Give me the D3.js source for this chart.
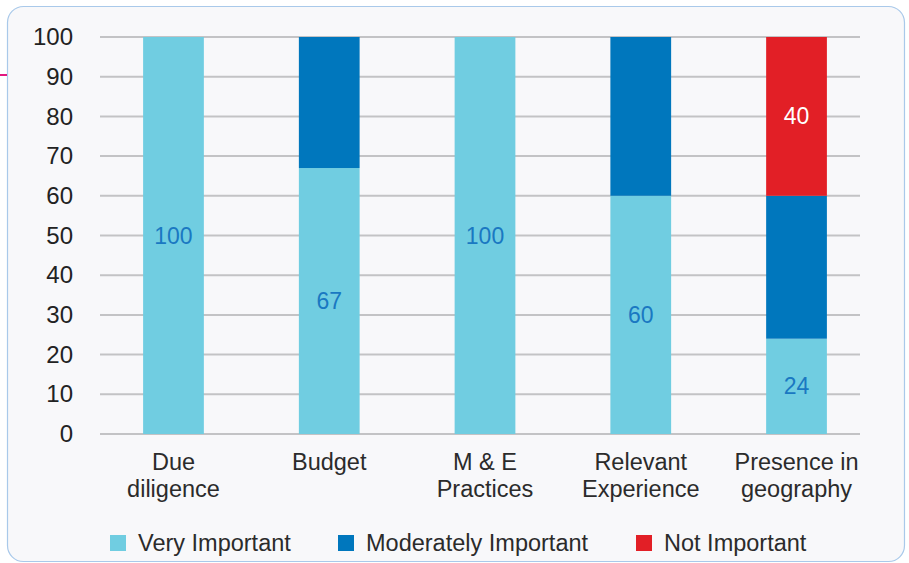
<!DOCTYPE html>
<html>
<head>
<meta charset="utf-8">
<script src="https://cdn.jsdelivr.net/npm/d3@7"></script>
<style>
  html, body { margin: 0; padding: 0; background: #ffffff; }
  svg { display: block; font-family: "Liberation Sans", Arial, sans-serif; }
</style>
</head>
<body>
<svg id="chart" width="909" height="563"></svg>
<script>
// Survey: importance of each criterion (percent of respondents)
const categories = [["Due", "diligence"], ["Budget"], ["M & E", "Practices"], ["Relevant", "Experience"], ["Presence in", "geography"]];
const seriesNames = ["Very Important", "Moderately Important", "Not Important"];
const veryImportant = [100, 67, 100, 60, 24];
const moderatelyImportant = [0, 33, 0, 40, 36];
const notImportant = [0, 0, 0, 0, 40];
// Segment values printed on the bars (null = no label)
const veryLabels = [100, 67, 100, 60, 24];
const moderateLabels = [null, null, null, null, null];
const notLabels = [null, null, null, null, 40];
const yTicks = [0, 10, 20, 30, 40, 50, 60, 70, 80, 90, 100];

const colors = ["#70cde1", "#0077bd", "#e21f26"];
const labelColors = ["#1a78c2", "#ffffff", "#ffffff"];
const FONT = "Liberation Sans, Arial, sans-serif";

const svg = d3.select("#chart");

// panel
svg.append("rect")
  .attr("x", 7.5).attr("y", 6.5).attr("width", 897).attr("height", 555)
  .attr("rx", 16).attr("ry", 16)
  .attr("fill", "#f8f8fa").attr("stroke", "#a9c9ea").attr("stroke-width", 1.2);
svg.append("line")
  .attr("x1", 0).attr("x2", 7).attr("y1", 75).attr("y2", 75)
  .attr("stroke", "#e3177f").attr("stroke-width", 2);

const keys = categories.map((c, i) => i);
const x = d3.scaleBand().domain(keys).range([95.6, 874.4]).paddingInner(0.61).paddingOuter(0.305);
const y = d3.scaleLinear().domain([0, 100]).range([434, 37]);
const gridX0 = 100, gridX1 = 860;

// gridlines
svg.append("g").selectAll("line").data(yTicks).join("line")
  .attr("x1", gridX0).attr("x2", gridX1)
  .attr("y1", d => y(d)).attr("y2", d => y(d))
  .attr("stroke", "#c3c3c5").attr("stroke-width", 2);

// y axis labels
const yAxis = d3.axisLeft(y).tickValues(yTicks).tickSize(0).tickPadding(0);
const ya = svg.append("g").attr("transform", "translate(73,0)").call(yAxis);
ya.select(".domain").remove();
ya.selectAll("text")
  .attr("font-size", 24).attr("fill", "#222").attr("font-family", FONT);

// stacked bars
const rows = keys.map(i => ({ i, v0: veryImportant[i], v1: moderatelyImportant[i], v2: notImportant[i] }));
const stack = d3.stack().keys(["v0", "v1", "v2"]);
const layers = stack(rows);
const labelSets = [veryLabels, moderateLabels, notLabels];

layers.forEach((layer, li) => {
  svg.append("g").selectAll("rect").data(layer).join("rect")
    .attr("x", d => x(d.data.i))
    .attr("width", x.bandwidth())
    .attr("y", d => y(d[1]))
    .attr("height", d => y(d[0]) - y(d[1]))
    .attr("fill", colors[li]);
});

layers.forEach((layer, li) => {
  svg.append("g").selectAll("text").data(layer.filter(d => labelSets[li][d.data.i] != null)).join("text")
    .attr("x", d => x(d.data.i) + x.bandwidth() / 2)
    .attr("y", d => (y(d[0]) + y(d[1])) / 2)
    .attr("dy", "0.35em")
    .attr("text-anchor", "middle")
    .attr("font-size", 23)
    .attr("fill", labelColors[li])
    .text(d => labelSets[li][d.data.i]);
});

// category labels
const xl = svg.append("g");
categories.forEach((lines, i) => {
  const t = xl.append("text")
    .attr("x", x(i) + x.bandwidth() / 2)
    .attr("y", 470)
    .attr("text-anchor", "middle")
    .attr("font-size", 23.5)
    .attr("fill", "#2b2b2b");
  lines.forEach((ln, k) => {
    t.append("tspan").attr("x", x(i) + x.bandwidth() / 2).attr("dy", k === 0 ? 0 : 27).text(ln);
  });
});

// legend
const legendX = [110, 338, 636];
const lg = svg.append("g");
seriesNames.forEach((name, i) => {
  lg.append("rect").attr("x", legendX[i]).attr("y", 535).attr("width", 16).attr("height", 16).attr("fill", colors[i]);
  lg.append("text").attr("x", legendX[i] + 28).attr("y", 551)
    .attr("font-size", 23.5).attr("fill", "#2b2b2b").text(name);
});
</script>
</body>
</html>
